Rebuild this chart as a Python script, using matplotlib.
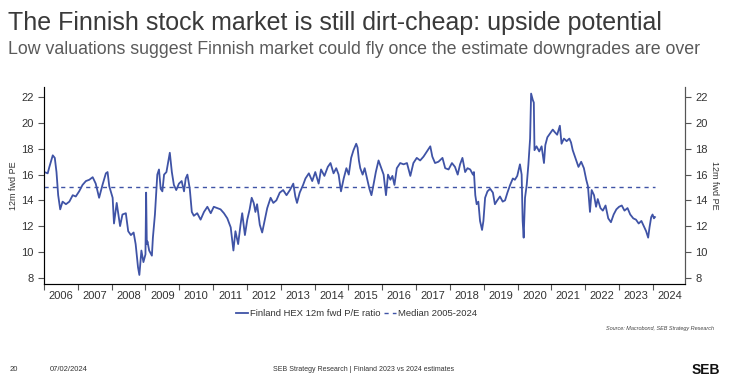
import matplotlib.pyplot as plt

# Finland HEX 12m fwd P/E (decimal years)
yrs = [
    2006.01, 2006.11, 2006.16, 2006.26, 2006.32, 2006.37, 2006.42, 2006.48, 2006.55, 2006.65,
    2006.75, 2006.85, 2006.94, 2007.04, 2007.14, 2007.24, 2007.34, 2007.44, 2007.53, 2007.63,
    2007.73, 2007.83, 2007.88, 2007.93, 2008.03, 2008.07, 2008.15, 2008.25, 2008.32, 2008.42,
    2008.49, 2008.57, 2008.65, 2008.71, 2008.78, 2008.82, 2008.88, 2008.94, 2009.00, 2009.02,
    2009.04, 2009.06, 2009.11, 2009.19, 2009.22, 2009.28, 2009.35, 2009.40, 2009.45, 2009.50,
    2009.55, 2009.62, 2009.68, 2009.72, 2009.78, 2009.84, 2009.91, 2009.99, 2010.07, 2010.14,
    2010.19, 2010.24, 2010.31, 2010.37, 2010.43, 2010.53, 2010.63, 2010.73, 2010.83, 2010.93,
    2011.02, 2011.12, 2011.22, 2011.32, 2011.42, 2011.52, 2011.60, 2011.66, 2011.74, 2011.81,
    2011.86, 2011.94, 2012.01, 2012.08, 2012.14, 2012.20, 2012.25, 2012.30, 2012.38, 2012.45,
    2012.52, 2012.60, 2012.70, 2012.78, 2012.87, 2012.97, 2013.07, 2013.17, 2013.27, 2013.37,
    2013.43, 2013.48, 2013.56, 2013.66, 2013.73, 2013.83, 2013.93, 2014.02, 2014.12, 2014.19,
    2014.29, 2014.39, 2014.47, 2014.56, 2014.64, 2014.71, 2014.78, 2014.86, 2014.94, 2015.01,
    2015.08, 2015.15, 2015.23, 2015.27, 2015.31, 2015.35, 2015.42, 2015.48, 2015.55, 2015.62,
    2015.68, 2015.74, 2015.81, 2015.89, 2015.97, 2016.04, 2016.11, 2016.17, 2016.24, 2016.30,
    2016.36, 2016.43, 2016.53, 2016.63, 2016.73, 2016.83, 2016.92, 2017.02, 2017.12, 2017.22,
    2017.32, 2017.42, 2017.48, 2017.56, 2017.66, 2017.78, 2017.86, 2017.96, 2018.06, 2018.15,
    2018.23, 2018.30, 2018.37, 2018.45, 2018.52, 2018.60, 2018.68, 2018.71, 2018.75, 2018.79,
    2018.84, 2018.89, 2018.95, 2018.99, 2019.04, 2019.11, 2019.19, 2019.27, 2019.33, 2019.40,
    2019.48, 2019.56, 2019.63, 2019.70, 2019.78, 2019.86, 2019.92, 2019.99, 2020.07, 2020.12,
    2020.15, 2020.18, 2020.22, 2020.27, 2020.32, 2020.37, 2020.40, 2020.45, 2020.48, 2020.50,
    2020.56, 2020.64, 2020.71, 2020.78, 2020.82, 2020.88, 2020.96, 2021.04, 2021.10, 2021.17,
    2021.25, 2021.30, 2021.37, 2021.45, 2021.53, 2021.58, 2021.63, 2021.72, 2021.80, 2021.88,
    2021.96, 2022.03, 2022.08, 2022.14, 2022.19, 2022.26, 2022.32, 2022.37, 2022.45, 2022.52,
    2022.60, 2022.68, 2022.76, 2022.84, 2022.92, 2023.00, 2023.08, 2023.16, 2023.25, 2023.33,
    2023.42, 2023.50, 2023.58, 2023.66, 2023.73, 2023.80, 2023.86, 2023.90, 2023.95, 2023.99,
    2024.03, 2024.06,
]
pe = [
    16.2, 16.1, 16.6, 17.5, 17.3, 16.2, 14.4, 13.3, 13.9, 13.7,
    13.9, 14.4, 14.3, 14.7, 15.2, 15.5, 15.6, 15.8, 15.3, 14.2,
    15.2, 16.1, 16.2, 15.1, 14.2, 12.2, 13.8, 12.0, 12.9, 13.0,
    11.6, 11.3, 11.5, 10.6, 8.8, 8.2, 10.1, 9.2, 9.8, 14.6,
    10.6, 10.8, 10.1, 9.7, 11.1, 12.9, 16.0, 16.4, 14.9, 14.7,
    16.0, 16.2, 17.1, 17.7, 16.2, 15.2, 14.8, 15.3, 15.5, 14.7,
    15.7, 16.0, 14.9, 13.1, 12.8, 13.0, 12.5, 13.1, 13.5, 13.0,
    13.5, 13.4, 13.3, 13.0, 12.6, 11.9, 10.1, 11.6, 10.6, 12.1,
    13.0, 11.3, 12.5, 13.3, 14.2, 13.8, 13.1, 13.7, 12.1, 11.5,
    12.4, 13.4, 14.2, 13.8, 14.0, 14.6, 14.8, 14.4, 14.8, 15.3,
    14.3, 13.8, 14.6, 15.2, 15.7, 16.1, 15.5, 16.2, 15.3, 16.4,
    15.9, 16.6, 16.9, 16.1, 16.5, 16.0, 14.7, 15.7, 16.5, 16.0,
    17.3, 17.9, 18.4, 18.1, 17.1, 16.5, 16.0, 16.5, 15.7, 14.9,
    14.4, 15.2, 16.2, 17.1, 16.5, 16.0, 14.4, 16.0, 15.6, 15.9,
    15.2, 16.5, 16.9, 16.8, 16.9, 15.9, 16.9, 17.3, 17.1, 17.4,
    17.8, 18.2, 17.4, 16.9, 17.0, 17.3, 16.5, 16.4, 16.9, 16.6,
    16.0, 16.8, 17.3, 16.2, 16.5, 16.4, 16.0, 16.2, 14.4, 13.7,
    13.9, 12.4, 11.7, 12.4, 14.2, 14.7, 14.9, 14.6, 13.7, 14.0,
    14.3, 13.9, 14.0, 14.6, 15.2, 15.7, 15.6, 15.9, 16.8, 16.0,
    12.4, 11.1, 14.2, 15.2, 16.8, 18.8, 22.3, 21.8, 21.6, 17.9,
    18.2, 17.8, 18.2, 16.9, 18.3, 18.9, 19.2, 19.5, 19.3, 19.1,
    19.8, 18.4, 18.8, 18.6, 18.8, 18.5, 17.9, 17.2, 16.6, 17.0,
    16.5, 15.6, 15.1, 13.1, 14.8, 14.4, 13.5, 14.1, 13.4, 13.2,
    13.6, 12.6, 12.3, 12.9, 13.3, 13.5, 13.6, 13.2, 13.4, 12.9,
    12.6, 12.5, 12.2, 12.4, 12.0, 11.6, 11.1, 11.9, 12.7, 12.9,
    12.6, 12.7,
]
median_pe = 15.0
yticks = [8, 10, 12, 14, 16, 18, 20, 22]
years = list(range(2006, 2025))

blue = '#3f53a6'
txt = '#333333'
font = ['Liberation Sans']

fig = plt.figure(figsize=(7.49, 3.89), dpi=100)
ax = fig.add_axes([0.0587, 0.27, 0.8559, 0.506])

ax.plot(yrs, pe, color=blue, lw=1.3, label='Finland HEX 12m fwd P/E ratio')
ax.plot([yrs[0], yrs[-1]], [median_pe, median_pe], color=blue, lw=1.0,
        ls=(0, (3, 3)), label='Median 2005-2024')

ax.set_xlim(2006.0, 2024.95)
ax.set_ylim(7.5, 22.8)
ax.set_yticks(yticks)
ax.set_xticks(years)
ax.set_xticklabels([])
ax.set_xticks([y + 0.5 for y in years], minor=True)
ax.set_xticklabels([str(y) for y in years], minor=True)
ax.tick_params(axis='x', which='major', length=4, color='#555555')
ax.tick_params(axis='x', which='minor', length=0, pad=5, labelsize=8, labelcolor=txt)
ax.tick_params(axis='y', length=4, color='#555555', labelsize=8, labelcolor=txt)
for lab in ax.get_xticklabels(minor=True) + ax.get_yticklabels():
    lab.set_family(font)
ax.spines['top'].set_visible(False)
for s in ['left', 'bottom', 'right']:
    ax.spines[s].set_color('#555555')
    ax.spines[s].set_linewidth(0.8)
ax.set_ylabel('12m fwd PE', fontsize=6.5, color=txt, family=font, labelpad=2)

ax2 = ax.twinx()
ax2.set_ylim(ax.get_ylim())
ax2.set_yticks(yticks)
ax2.tick_params(axis='y', length=4, color='#555555', labelsize=8, labelcolor=txt)
for lab in ax2.get_yticklabels():
    lab.set_family(font)
ax2.spines['top'].set_visible(False)
ax2.spines['right'].set_color('#555555')
ax2.spines['right'].set_linewidth(0.8)
ax2.set_ylabel('12m fwd PE', fontsize=6.5, color=txt, family=font, rotation=-90,
               labelpad=8)

ax.legend(loc='center', bbox_to_anchor=(0.476, 0.193), bbox_transform=fig.transFigure,
          ncol=2, frameon=False, handlelength=1.3, handletextpad=0.15, columnspacing=0.4,
          prop={'family': font, 'size': 6.8}, labelcolor=txt)

fig.text(0.011, 0.94, 'The Finnish stock market is still dirt-cheap: upside potential',
         fontsize=18, color='#3a3a3a', family=font, va='center', ha='left')
fig.text(0.011, 0.872, 'Low valuations suggest Finnish market could fly once the estimate '
         'downgrades are over', fontsize=12.8, color='#5a5a5a', family=font,
         va='center', ha='left')
fig.text(0.953, 0.155, 'Source: Macrobond, SEB Strategy Research', fontsize=4,
         style='italic', color='#444444', family=font, ha='right', va='center')

fig.text(0.013, 0.05, '20', fontsize=5.5, color=txt, family=font, va='center')
fig.text(0.067, 0.05, '07/02/2024', fontsize=5.5, color=txt, family=font, va='center')
fig.text(0.486, 0.05, 'SEB Strategy Research | Finland 2023 vs 2024 estimates', fontsize=5,
         color=txt, family=font, va='center', ha='center')
fig.text(0.942, 0.05, 'SEB', fontsize=10, weight='bold', color='#111111', va='center',
         ha='center', family=font)

fig.savefig('out.png', dpi=100)
